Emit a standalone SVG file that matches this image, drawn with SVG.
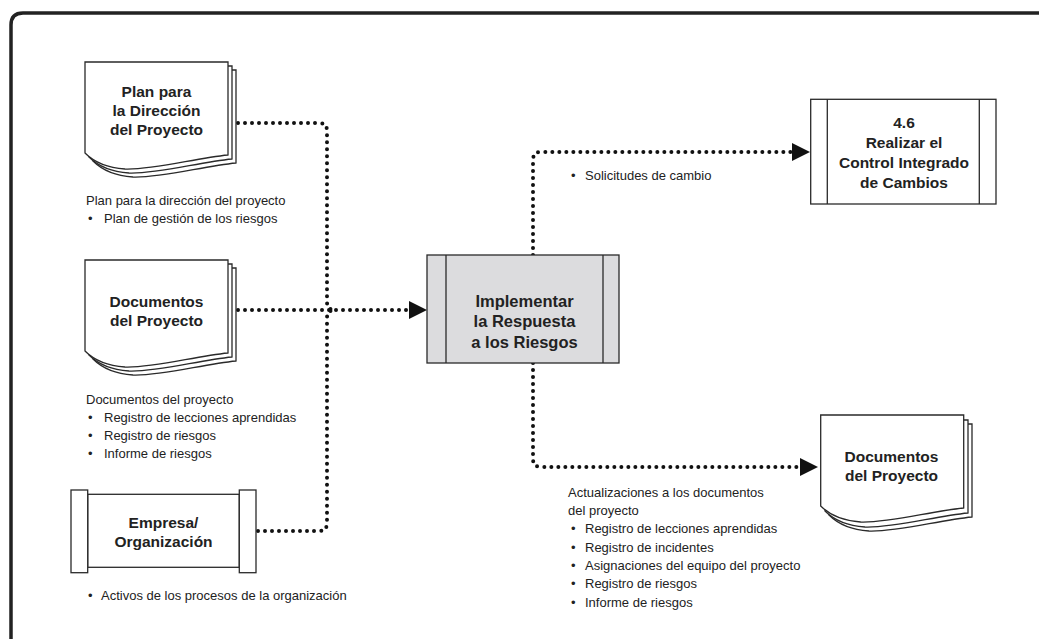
<svg xmlns="http://www.w3.org/2000/svg" width="1039" height="639" viewBox="0 0 1039 639">
<style>
.frame{fill:none;stroke:#222;stroke-width:3.5}
.shape{fill:#fff;stroke:#2a2a2a;stroke-width:1.3}
.proc{fill:#dcdcde;stroke:#2a2a2a;stroke-width:1.3}
.line{fill:none;stroke:#2a2a2a;stroke-width:1.3}
.node{font-family:"Liberation Sans",Arial,sans-serif;font-weight:bold;font-size:15.5px;fill:#222;text-anchor:middle}
.lbl{font-family:"Liberation Sans",Arial,sans-serif;font-size:13px;fill:#222}
.dot{fill:none;stroke:#111;stroke-width:4;stroke-linecap:round;stroke-dasharray:0 7}
</style>
<defs>
<path id="page" d="M0,0 H143 V93 C110,96 70,108 40,107 C25,106 10,101 0,91 Z"/>
<marker id="arr" markerUnits="userSpaceOnUse" viewBox="0 0 18 18" refX="0" refY="9" markerWidth="18" markerHeight="18" orient="auto">
<path d="M0,0 L18,9 L0,18 Z" fill="#111"/>
</marker>
</defs>
<rect width="1039" height="639" fill="#fff"/>
<path class="frame" d="M11,645 V25 Q11,13 23,13 H1045"/>

<g id="connectors">
<path class="dot" d="M238,123 H319 Q327,123 327,131 V302 Q327,310 335,310"/>
<path class="dot" d="M238,310 H409" marker-end="url(#arr)"/>
<path class="dot" d="M258,531 H319 Q327,531 327,523 V318 Q327,310 335,310"/>
<path class="dot" d="M533,255 V160 Q533,152 541,152 H792" marker-end="url(#arr)"/>
<path class="dot" d="M533,363 V459 Q533,467 541,467 H800" marker-end="url(#arr)"/>
</g>

<g id="plan-doc">
<use href="#page" class="shape" transform="translate(93,70)"/>
<use href="#page" class="shape" transform="translate(89,66)"/>
<use href="#page" class="shape" transform="translate(85,62)"/>
<text class="node" x="156.5" y="97">Plan para</text>
<text class="node" x="156.5" y="116">la Dirección</text>
<text class="node" x="156.5" y="135">del Proyecto</text>
</g>
<g id="plan-label" class="lbl">
<text x="86" y="205">Plan para la dirección del proyecto</text>
<text x="88" y="222.5">•</text><text x="104" y="222.5">Plan de gestión de los riesgos</text>
</g>

<g id="docs-in">
<use href="#page" class="shape" transform="translate(93,268)"/>
<use href="#page" class="shape" transform="translate(89,264)"/>
<use href="#page" class="shape" transform="translate(85,260)"/>
<text class="node" x="156.5" y="306.5">Documentos</text>
<text class="node" x="156.5" y="326">del Proyecto</text>
</g>
<g id="docs-label" class="lbl">
<text x="86" y="403.5">Documentos del proyecto</text>
<text x="88" y="421.8">•</text><text x="104" y="421.8">Registro de lecciones aprendidas</text>
<text x="88" y="440.1">•</text><text x="104" y="440.1">Registro de riesgos</text>
<text x="88" y="458.4">•</text><text x="104" y="458.4">Informe de riesgos</text>
</g>

<g id="empresa">
<rect class="shape" x="87.7" y="494.3" width="151.6" height="73"/>
<rect class="shape" x="71" y="490" width="16.7" height="82.7"/>
<rect class="shape" x="239.3" y="490" width="16.7" height="82.7"/>
<text class="node" x="163.5" y="528.3">Empresa/</text>
<text class="node" x="163.5" y="546.7">Organización</text>
</g>
<g id="empresa-label" class="lbl">
<text x="88" y="599.5">•</text><text x="101" y="599.5">Activos de los procesos de la organización</text>
</g>

<g id="implementar">
<rect class="proc" x="427" y="255" width="192" height="108"/>
<line class="line" x1="446" y1="255" x2="446" y2="363"/>
<line class="line" x1="603" y1="255" x2="603" y2="363"/>
<text class="node" style="font-size:16.5px" x="524.5" y="306.5">Implementar</text>
<text class="node" style="font-size:16.5px" x="524.5" y="327">la Respuesta</text>
<text class="node" style="font-size:16.5px" x="524.5" y="347.5">a los Riesgos</text>
</g>

<g id="control-cambios">
<rect class="shape" x="810.7" y="99.3" width="185.3" height="104.7"/>
<line class="line" x1="827.3" y1="99.3" x2="827.3" y2="204"/>
<line class="line" x1="979.3" y1="99.3" x2="979.3" y2="204"/>
<text class="node" x="904" y="127.5">4.6</text>
<text class="node" x="904" y="147.5">Realizar el</text>
<text class="node" x="904" y="167.5">Control Integrado</text>
<text class="node" x="904" y="187.5">de Cambios</text>
</g>
<g id="solicitudes-label" class="lbl">
<text x="571" y="180">•</text><text x="585" y="180">Solicitudes de cambio</text>
</g>

<g id="docs-out">
<use href="#page" class="shape" transform="translate(829,424)"/>
<use href="#page" class="shape" transform="translate(825,420)"/>
<use href="#page" class="shape" transform="translate(820.7,415)"/>
<text class="node" x="891.5" y="461.7">Documentos</text>
<text class="node" x="891.5" y="481.3">del Proyecto</text>
</g>
<g id="actualizaciones-label" class="lbl">
<text x="568" y="496.7">Actualizaciones a los documentos</text>
<text x="568" y="515">del proyecto</text>
<text x="571" y="533.3">•</text><text x="585" y="533.3">Registro de lecciones aprendidas</text>
<text x="571" y="551.6">•</text><text x="585" y="551.6">Registro de incidentes</text>
<text x="571" y="569.9">•</text><text x="585" y="569.9">Asignaciones del equipo del proyecto</text>
<text x="571" y="588.2">•</text><text x="585" y="588.2">Registro de riesgos</text>
<text x="571" y="606.5">•</text><text x="585" y="606.5">Informe de riesgos</text>
</g>
</svg>
